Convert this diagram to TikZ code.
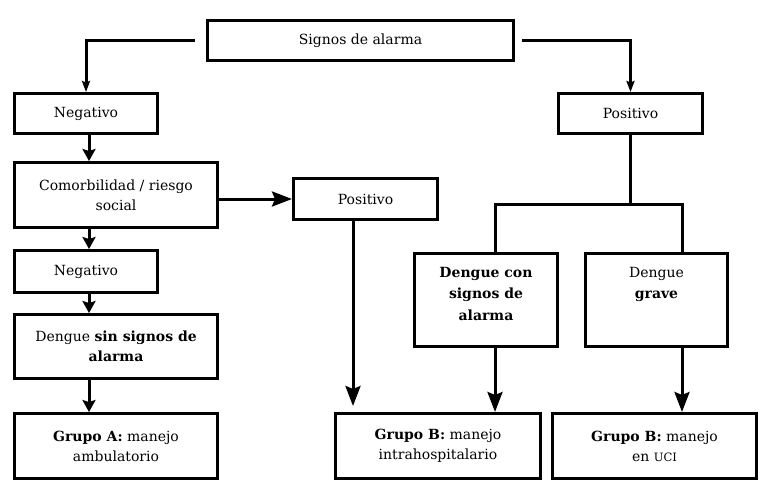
\documentclass[tikz,border=0pt]{standalone}
\usepackage{fontspec}
\setmainfont{DejaVu Serif}
\usetikzlibrary{arrows.meta}
\begin{document}
\begin{tikzpicture}[x=1pt,y=-1pt,
  box/.style={draw,line width=3pt,inner sep=0pt,align=center,
    font=\fontsize{14}{20}\selectfont},
  txt/.style={inner sep=0pt,align=center,font=\fontsize{14}{21.5}\selectfont},
  conn/.style={line width=3pt,line join=miter},
  arrS/.style={conn,-{Stealth[length=11pt,width=8pt,inset=1.5pt]}},
  arrM/.style={conn,-{Stealth[length=12pt,width=13pt,inset=2pt]}},
  arrB/.style={conn,-{Stealth[length=20pt,width=15pt,inset=3pt]}}]
\useasboundingbox (0,0) rectangle (766,493);
% boxes
\node[box,minimum width=306pt,minimum height=40pt] (signos) at (360.5,40.5) {Signos de alarma};
\node[box,minimum width=143pt,minimum height=40pt] (neg1) at (86,113.5) {Negativo};
\node[box,minimum width=144pt,minimum height=40pt] (posR) at (630.5,113.5) {Positivo};
\node[box,minimum width=203pt,minimum height=65pt] (comor) at (116,195) {Comorbilidad / riesgo\\social};
\node[box,minimum width=144pt,minimum height=41pt] (posL) at (365.5,199) {Positivo};
\node[box,minimum width=143pt,minimum height=42pt] (neg2) at (86,271.5) {Negativo};
\node[box,minimum width=203pt,minimum height=64pt] (dsin) at (116,346.5) {Dengue \textbf{sin signos de}\\\textbf{alarma}};
\node[box,minimum width=203pt,minimum height=65pt] (gA) at (116,446) {\textbf{Grupo A:} manejo\\ambulatorio};
\node[box,minimum width=143pt,minimum height=93pt] (dcon) at (486,300) {};
\node[box,minimum width=142pt,minimum height=93pt] (dgrave) at (656.5,300) {};
\node[box,minimum width=205pt,minimum height=65pt] (gbi) at (438,446) {\textbf{Grupo B:} manejo\\intrahospitalario};
\node[box,minimum width=204pt,minimum height=65pt] (guci) at (654.5,446) {\textbf{Grupo B:} manejo\\en {\fontsize{11.5}{20}\selectfont UCI}};
\node[txt,anchor=north] (dcont) at ([yshift=-15pt]dcon.north) {\textbf{Dengue con}\\\textbf{signos de}\\\textbf{alarma}};
\node[txt,anchor=north] (dgravet) at ([yshift=-15pt]dgrave.north) {Dengue\\\textbf{grave}};
% coordinates
\coordinate (sL) at (195,40.5);
\coordinate (sR) at (522,40.5);
\coordinate (colL) at (89,0);
\coordinate (colP) at (353,0);
\coordinate (c1) at (495,204);
\coordinate (c2) at (682,204);
% connectors
\draw[arrS] (sL) -| (neg1.north);
\draw[arrS] (sR) -| (posR.north);
\draw[arrM] (colL |- neg1.south) -- (colL |- comor.north);
\draw[arrB] (posL.west -| comor.east) -- (posL.west);
\draw[arrM] (colL |- comor.south) -- (colL |- neg2.north);
\draw[arrM] (colL |- neg2.south) -- (colL |- dsin.north);
\draw[arrM] (colL |- dsin.south) -- (colL |- gA.north);
\draw[arrB,shorten >=6pt] (colP |- posL.south) -- (colP |- gbi.north);
\draw[conn] (posR.south) -- (posR.south |- c1);
\draw[conn] (c1 |- dcon.north) -- (c1) -- (c2) -- (c2 |- dgrave.north);
\draw[arrB] (c1 |- dcon.south) -- (c1 |- gbi.north);
\draw[arrB] (c2 |- dgrave.south) -- (c2 |- guci.north);
\end{tikzpicture}
\end{document}
